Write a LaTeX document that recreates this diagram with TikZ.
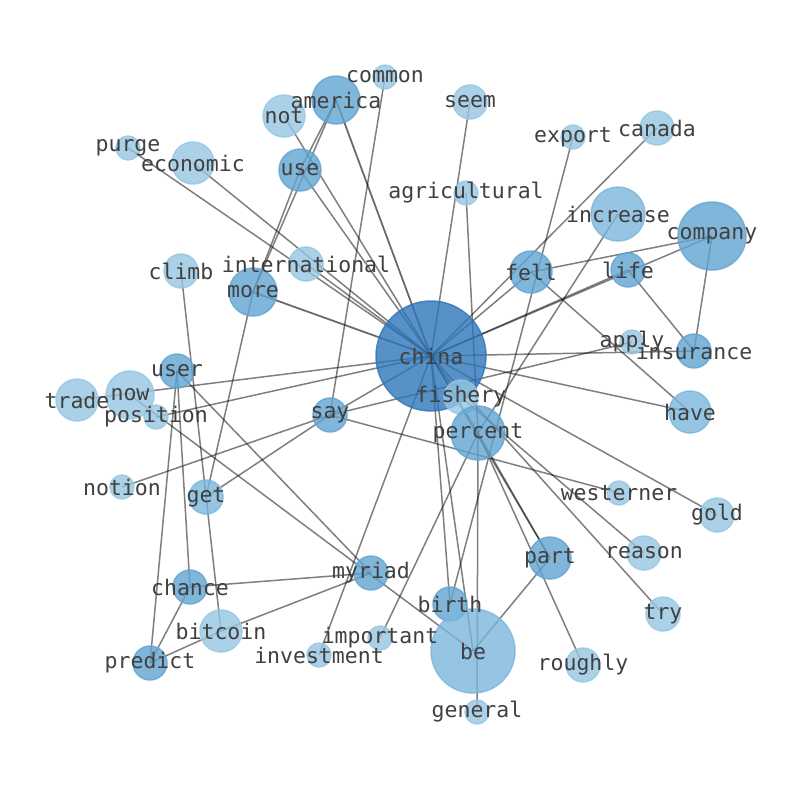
\documentclass[tikz,border=0pt]{standalone}
\usepackage{fontspec}
\newfontfamily\monofam{DejaVu Sans Mono}
\pgfdeclarelayer{bg}
\pgfsetlayers{bg,main}
\definecolor{lightc}{RGB}{150,198,226}
\definecolor{midlc}{RGB}{122,182,220}
\definecolor{midc}{RGB}{98,164,210}
\definecolor{chinac}{RGB}{45,118,185}
\definecolor{txtc}{RGB}{64,64,64}
\tikzset{
  wn/.style={circle, inner sep=0pt, minimum size=#1*2pt, fill opacity=0.8, draw opacity=0.8, line width=1.5pt},
  lt/.style={fill=lightc, draw=lightc},
  ml/.style={fill=midlc, draw=midlc},
  md/.style={fill=midc, draw=midc},
  ch/.style={fill=chinac, draw=chinac},
  lbl/.style={inner sep=0pt, text=txtc, font=\monofam\fontsize{21.5}{22}\selectfont},
  edge/.style={draw=black, draw opacity=0.5, line width=1.5pt},
  strongedge/.style={draw=black, draw opacity=0.58, line width=1.8pt}
}
\begin{document}
\begin{tikzpicture}[x=1pt,y=-1pt]
\useasboundingbox (0,0) rectangle (794,790);
% nodes (circles)
\node[wn=55,ch] (china) at (431,356) {};
\node[wn=24,md] (america) at (336,100) {};
\node[wn=12,lt] (common) at (385,77) {};
\node[wn=21,lt] (not) at (284,116) {};
\node[wn=17,lt] (seem) at (470,102) {};
\node[wn=12,lt] (purge) at (128,148) {};
\node[wn=21,lt] (economic) at (193,163) {};
\node[wn=21,md] (use) at (300,170) {};
\node[wn=12,lt] (agricultural) at (466,193) {};
\node[wn=12,lt] (export) at (573,137) {};
\node[wn=17,lt] (canada) at (657,128) {};
\node[wn=27,ml] (increase) at (618,214) {};
\node[wn=34,md] (company) at (712,236) {};
\node[wn=17,lt] (international) at (306,264) {};
\node[wn=17,lt] (climb) at (181,271) {};
\node[wn=24,md] (more) at (253,292) {};
\node[wn=21,md] (fell) at (531,272) {};
\node[wn=17,md] (life) at (628,270) {};
\node[wn=12,lt] (apply) at (632,342) {};
\node[wn=17,md] (insurance) at (694,351) {};
\node[wn=17,md] (user) at (177,371) {};
\node[wn=24,lt] (now) at (130,395) {};
\node[wn=21,lt] (trade) at (77,400) {};
\node[wn=12,lt] (position) at (156,417) {};
\node[wn=17,md] (say) at (330,415) {};
\node[wn=17,lt] (fishery) at (461,397) {};
\node[wn=27,md] (percent) at (478,433) {};
\node[wn=21,ml] (have) at (690,412) {};
\node[wn=12,lt] (notion) at (122,487) {};
\node[wn=17,ml] (get) at (206,497) {};
\node[wn=12,lt] (westerner) at (619,493) {};
\node[wn=17,lt] (gold) at (717,515) {};
\node[wn=21,md] (part) at (550,558) {};
\node[wn=17,lt] (reason) at (644,553) {};
\node[wn=17,md] (chance) at (190,587) {};
\node[wn=17,md] (myriad) at (371,573) {};
\node[wn=21,lt] (bitcoin) at (221,631) {};
\node[wn=17,lt] (try) at (663,614) {};
\node[wn=17,md] (birth) at (450,604) {};
\node[wn=12,lt] (important) at (380,638) {};
\node[wn=12,lt] (investment) at (319,655) {};
\node[wn=42,ml] (be) at (473,651) {};
\node[wn=17,md] (predict) at (150,663) {};
\node[wn=17,lt] (roughly) at (583,665) {};
\node[wn=12,lt] (general) at (477,712) {};
% edges
\begin{pgfonlayer}{bg}
\foreach \a/\b in {china/use,china/not,china/economic,china/purge,china/international,china/seem,china/canada,china/fell,china/company,china/life,china/insurance,china/have,china/gold,china/try,china/part,china/birth,china/be,china/say,china/trade,china/position,china/investment,china/fishery,china/percent,
america/more,america/use,use/more,more/get,climb/bitcoin,common/say,agricultural/percent,increase/percent,important/percent,export/birth,company/fell,company/insurance,life/insurance,fell/have,say/apply,say/notion,say/get,say/westerner,fishery/reason,percent/part,percent/roughly,percent/general,be/part,now/be,user/myriad,user/chance,user/predict,chance/myriad,chance/predict,bitcoin/myriad,bitcoin/predict}
  \draw[edge] (\a.center) -- (\b.center);
\foreach \a/\b in {china/america,china/more}
  \draw[strongedge] (\a.center) -- (\b.center);
\end{pgfonlayer}
% labels
\foreach \n in {china,america,common,not,seem,purge,economic,use,agricultural,export,canada,increase,company,international,climb,more,fell,life,apply,insurance,user,now,trade,position,say,fishery,percent,have,notion,get,westerner,gold,part,reason,chance,myriad,bitcoin,try,birth,important,investment,be,predict,roughly,general}
  \node[lbl] (t-\n) at (\n.center) {\n};
\end{tikzpicture}
\end{document}
